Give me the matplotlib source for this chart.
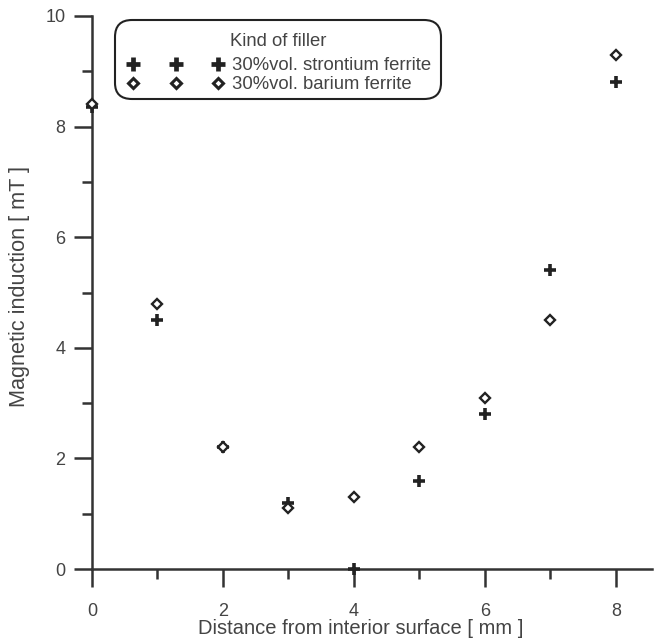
import matplotlib
matplotlib.use("Agg")
import matplotlib.pyplot as plt
from matplotlib.ticker import MultipleLocator
from matplotlib.offsetbox import HPacker, DrawingArea

plt.rcParams['font.family'] = ['Liberation Sans', 'DejaVu Sans']

x = [0, 1, 2, 3, 4, 5, 6, 7, 8]
strontium = [8.35, 4.5, 2.2, 1.2, 0.0, 1.6, 2.8, 5.4, 8.8]
barium_x = [0, 1, 2, 3, 4, 5, 6, 7, 8]
barium = [8.4, 4.8, 2.2, 1.1, 1.3, 2.2, 3.1, 4.5, 9.3]

xticks = [0, 2, 4, 6, 8]
yticks = [0, 2, 4, 6, 8, 10]

fig = plt.figure(figsize=(6.57, 6.41), dpi=100)
ax = fig.add_axes([92/657, 1-569/641, 560/657, (569-16)/641])

txt = '#444444'
ink = '#222222'
ax.plot(x, strontium, linestyle='none', marker='+', markersize=9, markeredgewidth=2.6,
        color=ink, label='30%vol. strontium ferrite', clip_on=False, zorder=3)
ax.plot(barium_x, barium, linestyle='none', marker='D', markersize=5.2, markeredgewidth=1.7,
        markerfacecolor='white', markeredgecolor=ink, label='30%vol. barium ferrite',
        clip_on=False, zorder=3)

ax.set_xlim(0, 8.55)
ax.set_ylim(0, 10)
ax.set_xticks(xticks)
ax.set_yticks(yticks)
ax.xaxis.set_minor_locator(MultipleLocator(1))
ax.yaxis.set_minor_locator(MultipleLocator(1))
for s in ['top', 'right']:
    ax.spines[s].set_visible(False)
for s in ['left', 'bottom']:
    ax.spines[s].set_linewidth(1.8)
    ax.spines[s].set_color('#333333')
ax.tick_params(which='major', length=13, width=1.8, color='#333333', labelsize=13, labelcolor=txt)
ax.tick_params(which='minor', length=7, width=1.8, color='#333333')
ax.tick_params(axis='x', which='major', pad=11.5)
ax.tick_params(axis='y', which='major', pad=6)

ax.set_xlabel('Distance from interior surface [ mm ]', fontsize=14.5, color=txt)
ax.set_ylabel('Magnetic induction [ mT ]', fontsize=15.6, color=txt)
ax.xaxis.set_label_coords(0.48, -0.09)
ax.yaxis.set_label_coords(-0.11, 0.51)

leg = ax.legend(title='Kind of filler', numpoints=3, loc='upper left',
                bbox_to_anchor=(115/657, 1-20/641), bbox_transform=fig.transFigure,
                fancybox=True, frameon=True, fontsize=13.3, title_fontsize=13.3,
                markerscale=1.05, handlelength=5.2, handletextpad=0.45, borderpad=0.15,
                labelspacing=0.1, borderaxespad=0, edgecolor=ink, framealpha=1)
leg.get_frame().set_linewidth(1.5)
leg.get_frame().set_boxstyle('round,pad=0,rounding_size=0.9')
for t in leg.get_texts():
    t.set_color(txt)
leg.get_title().set_color(txt)
hs = leg.legend_handles
hs[0].set_markeredgewidth(3.4)
hs[1].set_markeredgewidth(2.2)

# spacing inside the legend box (extra room around title and entries)
lb = leg._legend_box
title_box = leg._legend_title_box
hbox = leg._legend_handle_box
new_h = HPacker(pad=0, sep=0, align='center',
                children=[DrawingArea(7.2, 0), hbox, DrawingArea(5.0, 0)])
new_children = [DrawingArea(0, 6.3), title_box, DrawingArea(0, 2.4), new_h,
                DrawingArea(0, 1.0)]
for c in new_children:
    c.set_figure(fig)
lb._children = new_children

fig.savefig('out.png', dpi=100)
